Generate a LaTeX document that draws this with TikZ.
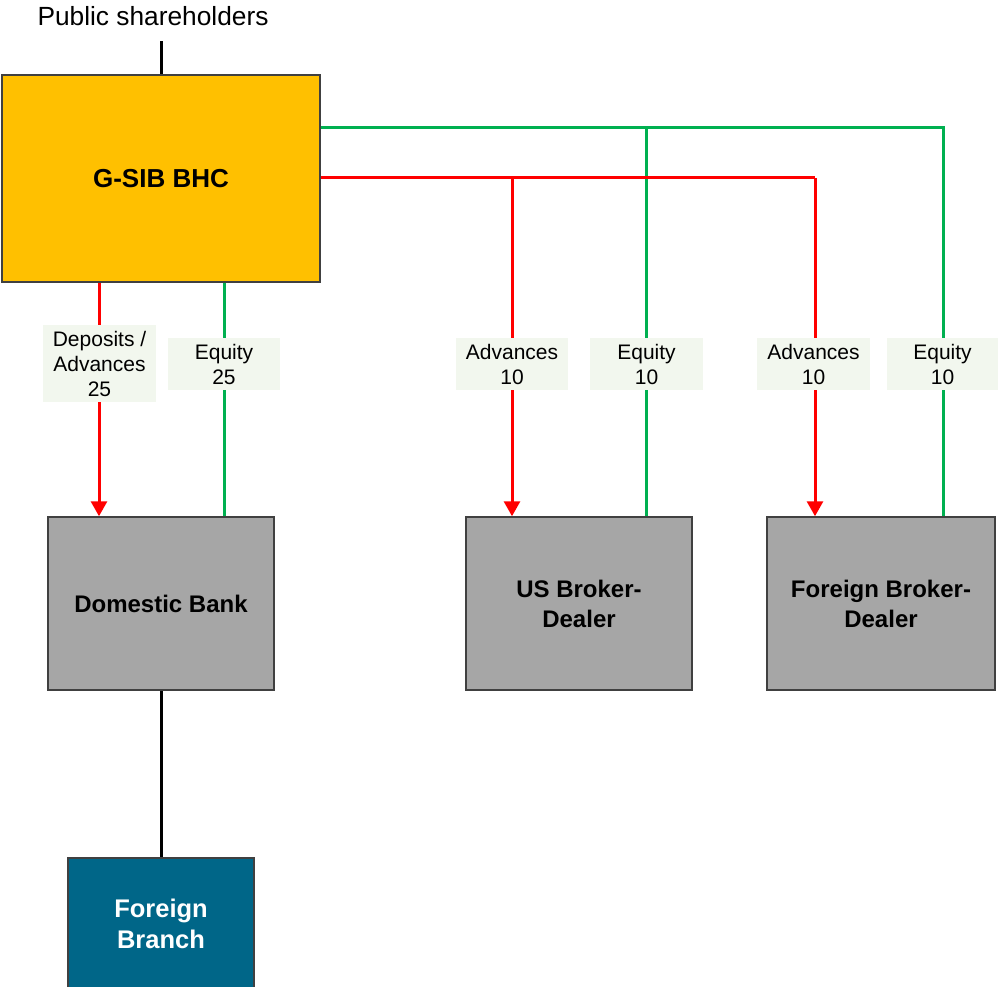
\documentclass[tikz,border=0pt]{standalone}
\usepackage{fontspec}
\setmainfont{Liberation Sans}
\usetikzlibrary{arrows.meta,calc}
\definecolor{bhcfill}{HTML}{FFC000}
\definecolor{boxgray}{HTML}{A6A6A6}
\definecolor{branchblue}{HTML}{006688}
\definecolor{edgegray}{HTML}{404040}
\definecolor{labfill}{HTML}{F2F7EE}
\definecolor{eqgreen}{HTML}{00B050}
\definecolor{advred}{HTML}{FF0000}
\pgfdeclarelayer{bg}
\pgfsetlayers{bg,main}
\begin{document}
\begin{tikzpicture}[x=1pt,y=-1pt,
  entity/.style={draw=edgegray,line width=1.5pt,inner sep=0pt,align=center,
    font=\fontsize{24}{30}\selectfont\bfseries},
  flowlab/.style={fill=labfill,inner sep=0pt,align=center,
    font=\fontsize{21}{25}\selectfont},
  eqline/.style={draw=eqgreen,line width=3pt},
  advline/.style={draw=advred,line width=3pt},
  owner/.style={draw=black,line width=3pt},
  tip/.style={-{Triangle[width=16pt,length=15pt]}}]
\useasboundingbox (0,0) rectangle (998,987);

\node[font=\fontsize{26.3}{30}\selectfont] (pub) at (153,16) {Public shareholders};
\node[entity,fill=bhcfill,minimum width=318pt,minimum height=207pt,
  font=\fontsize{26}{30}\selectfont\bfseries] (bhc) at (161,178.5) {G-SIB BHC};
\node[entity,fill=boxgray,minimum width=226pt,minimum height=173pt] (db) at (161,603.5) {Domestic Bank};
\node[entity,fill=boxgray,minimum width=226pt,minimum height=173pt] (usbd) at (579,603.5) {US Broker-\\Dealer};
\node[entity,fill=boxgray,minimum width=228pt,minimum height=173pt] (fbd) at (881,603.5) {Foreign Broker-\\Dealer};
\node[entity,fill=branchblue,text=white,minimum width=186pt,minimum height=132pt,
  font=\fontsize{25.5}{31}\selectfont\bfseries] (fb) at (161,924) {Foreign\\Branch};

\node[flowlab,minimum width=113pt,minimum height=77pt] (lda) at (99.5,363.5) {Deposits /\\Advances\\25};
\node[flowlab,minimum width=112pt,minimum height=52pt] (le25) at (224,364) {Equity\\25};
\node[flowlab,minimum width=112pt,minimum height=52pt] (la1) at (512,364) {Advances\\10};
\node[flowlab,minimum width=113pt,minimum height=52pt] (le1) at (646.5,364) {Equity\\10};
\node[flowlab,minimum width=113pt,minimum height=52pt] (la2) at (813.5,364) {Advances\\10};
\node[flowlab,minimum width=111pt,minimum height=52pt] (le2) at (942.5,364) {Equity\\10};

\coordinate (gj) at (646,128);
\coordinate (gr) at (943,128);
\coordinate (rj) at (512,178);
\coordinate (rr) at (815,178);
\coordinate (xda) at (99,0);
\coordinate (xe25) at (224,0);

\begin{pgfonlayer}{bg}
\draw[owner] (bhc.north) -- ++(0,-33);
\draw[owner] (db.south) -- (fb.north);
\draw[advline,tip] (bhc.south -| xda) -- (db.north -| xda);
\draw[eqline] (bhc.south -| xe25) -- (db.north -| xe25);
\draw[eqline] (bhc.east |- gj) -- (gr) -- (fbd.north -| gr);
\draw[eqline] (gj) -- (usbd.north -| gj);
\draw[advline] (bhc.east |- rj) -- (rr);
\draw[advline,tip] (rj) -- (usbd.north -| rj);
\draw[advline,tip] (rr) -- (fbd.north -| rr);
\end{pgfonlayer}
\end{tikzpicture}
\end{document}
